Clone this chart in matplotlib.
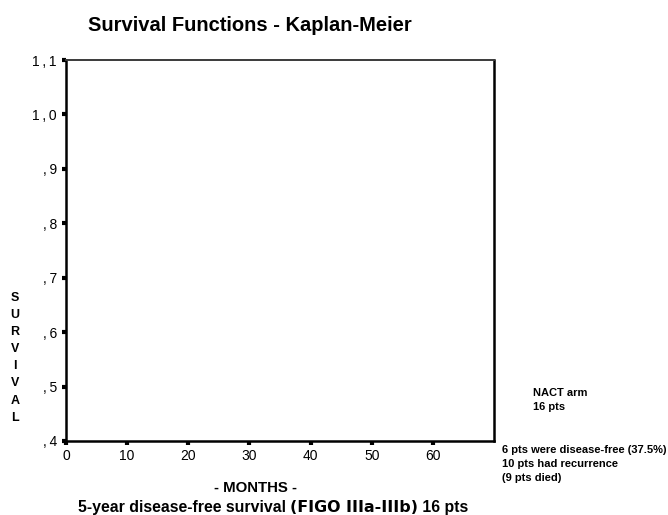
import matplotlib
matplotlib.use("Agg")
import matplotlib.pyplot as plt

plt.rcParams['font.family'] = ['Liberation Sans', 'DejaVu Sans']

# Axis layout of the Kaplan-Meier panel
x_ticks = [0, 10, 20, 30, 40, 50, 60]
x_tick_labels = ["0", "10", "20", "30", "40", "50", "60"]
y_ticks = [0.4, 0.5, 0.6, 0.7, 0.8, 0.9, 1.0, 1.1]
y_tick_labels = [",4", ",5", ",6", ",7", ",8", ",9", "1,0", "1,1"]
x_range = (0, 70)
y_range = (0.4, 1.1)

title = "Survival Functions - Kaplan-Meier"
y_label = "SURVIVAL"
x_label = "- MONTHS -"
caption_parts = ["5-year disease-free survival ", "(FIGO IIIa-IIIb)", " 16 pts"]
arm_note = ["NACT arm", "16 pts"]
outcome_note = ["6 pts were disease-free (37.5%)", "10 pts had recurrence", "(9 pts died)"]

W, H = 668, 515
fig = plt.figure(figsize=(W / 100, H / 100), dpi=100)
renderer = fig.canvas.get_renderer()


def fx(px):
    return px / W


def fy(py):
    return 1 - py / H


def fit(txt, width_px):
    """Scale a text's font size so it spans the given pixel width."""
    w = txt.get_window_extent(renderer).width
    txt.set_fontsize(txt.get_fontsize() * width_px / w)
    return txt


ax = fig.add_axes([fx(66), fy(441), (494 - 66) / W, (441 - 60) / H])
ax.set_xlim(*x_range)
ax.set_ylim(*y_range)
ax.set_xticks(x_ticks)
ax.set_xticklabels(x_tick_labels)
ax.set_yticks(y_ticks)
# widen the space around the decimal comma
ax.set_yticklabels([s.replace(",", "\u2009,\u2009").strip("\u2009") for s in y_tick_labels])
ax.tick_params(axis='both', direction='out', length=3, width=3, color='black',
               labelsize=10)
ax.tick_params(axis='x', pad=2.5)
ax.tick_params(axis='y', pad=3.5)
for side in ['left', 'right', 'bottom']:
    ax.spines[side].set_linewidth(1.8)
    ax.spines[side].set_color('black')
ax.spines['top'].set_linewidth(1.4)
ax.spines['top'].set_color('#3a3a3a')

t = fig.text(fx(250), fy(31), title, fontsize=14, fontweight='bold',
             ha='center', va='baseline')
fit(t, 325)

# stacked vertical axis label
for i, ch in enumerate(y_label):
    fig.text(fx(15), fy(298 + i * 17.1), ch, fontsize=9, fontweight='bold',
             ha='center', va='center')

m = fig.text(fx(255), fy(492), x_label, fontsize=10, fontweight='bold',
             ha='center', va='baseline')
fit(m, 83)

# caption line, with the FIGO stage in a heavier face
cap_y = 512
cap_left = 78
pieces = []
x0 = cap_left
for k, part in enumerate(caption_parts):
    heavy = (k == 1)
    p = fig.text(fx(x0), fy(cap_y), part, fontsize=10,
                 fontweight='heavy' if heavy else 'bold',
                 family=['DejaVu Sans'] if heavy else ['Liberation Sans'],
                 ha='left', va='baseline')
    pieces.append(p)
    x0 = p.get_window_extent(renderer).x1
total = pieces[-1].get_window_extent(renderer).x1 - cap_left
scale = 390 / total
x0 = cap_left
for p in pieces:
    p.set_fontsize(p.get_fontsize() * scale)
    p.set_x(fx(x0))
    x0 = p.get_window_extent(renderer).x1

narrow = ['Liberation Sans Narrow', 'Liberation Sans', 'DejaVu Sans']
first = fig.text(fx(502), fy(450), outcome_note[0], fontsize=8, fontweight='bold',
                 family=narrow, ha='left', va='center')
fit(first, 164)
note_size = first.get_fontsize()
for i, line in enumerate(outcome_note[1:], start=1):
    fig.text(fx(502), fy(450 + i * 14), line, fontsize=note_size, fontweight='bold',
             family=narrow, ha='left', va='center')
for i, line in enumerate(arm_note):
    fig.text(fx(533), fy(393 + i * 14), line, fontsize=note_size, fontweight='bold',
             family=narrow, ha='left', va='center')

fig.savefig("out.png", dpi=100)
